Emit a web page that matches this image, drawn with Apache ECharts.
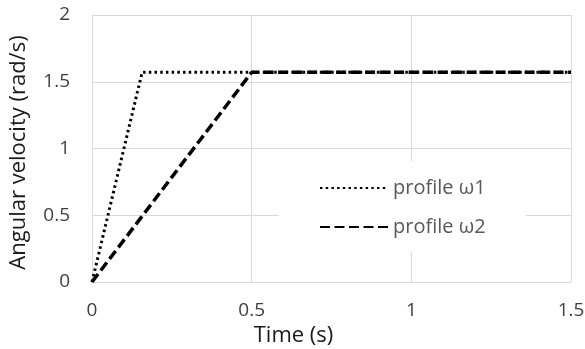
<!DOCTYPE html>
<html>
<head>
<meta charset="utf-8">
<script src="https://cdn.jsdelivr.net/npm/echarts@6/dist/echarts.min.js"></script>
<style>html,body{margin:0;padding:0;background:#fff}#c{width:585px;height:349px}</style>
</head>
<body>
<div id="c"></div>
<script>
const seriesNames = ['profile ω1', 'profile ω2'];
const omega1 = [[0, 0], [0.157, 1.5708], [1.5, 1.5708]];
const omega2 = [[0, 0], [0.5, 1.5708], [1.5, 1.5708]];
const xTicks = [0, 0.5, 1, 1.5];
const yTicks = [0, 0.5, 1, 1.5, 2];

const chart = echarts.init(document.getElementById('c'), null, {renderer: 'canvas'});
const font = '"Open Sans", sans-serif';
chart.setOption({
  animation: false,
  backgroundColor: '#fff',
  grid: {left: 92, right: 14, top: 15, bottom: 67, containLabel: false, outerBoundsMode: 'none'},
  xAxis: {
    type: 'value', min: 0, max: 1.5, interval: 0.5,
    name: 'Time (s)', nameLocation: 'middle', nameGap: 38,
    nameTextStyle: {fontFamily: font, fontSize: 22, color: '#1a1a1a', padding: [0, 76, 0, 0]},
    axisLine: {show: true, lineStyle: {color: '#d9d9d9', width: 1}},
    axisTick: {show: false},
    axisLabel: {fontFamily: font, fontSize: 19, color: '#404040', margin: 19,
      formatter: v => String(v)},
    splitLine: {show: true, lineStyle: {color: '#d9d9d9', width: 1}}
  },
  yAxis: {
    type: 'value', min: 0, max: 2, interval: 0.5,
    name: 'Angular velocity (rad/s)', nameLocation: 'middle', nameGap: 62,
    nameTextStyle: {fontFamily: font, fontSize: 22, color: '#1a1a1a', padding: [0, 8, 0, 0]},
    axisLine: {show: true, lineStyle: {color: '#d9d9d9', width: 1}},
    axisTick: {show: false},
    axisLabel: {fontFamily: font, fontSize: 19, color: '#404040', margin: 22,
      formatter: v => String(v)},
    splitLine: {show: true, lineStyle: {color: '#d9d9d9', width: 1}}
  },
  legend: {
    orient: 'vertical', left: 279, top: 161,
    padding: [17, 40, 15, 40], itemGap: 19,
    itemWidth: 68, itemHeight: 14,
    backgroundColor: '#fff',
    itemStyle: {opacity: 0},
    textStyle: {fontFamily: font, fontSize: 20, color: '#595959'},
    data: seriesNames
  },
  series: [
    {name: seriesNames[0], type: 'line', data: omega1, symbol: 'none', z: 3,
     lineStyle: {color: '#000', width: 3, type: [2.5, 3.2], cap: 'butt'}, itemStyle: {color: '#000'}},
    {name: seriesNames[1], type: 'line', data: omega2, symbol: 'none', z: 4,
     lineStyle: {color: '#000', width: 3.5, type: [10, 4.5], cap: 'butt'}, itemStyle: {color: '#000'}}
  ]
});
</script>
</body>
</html>
